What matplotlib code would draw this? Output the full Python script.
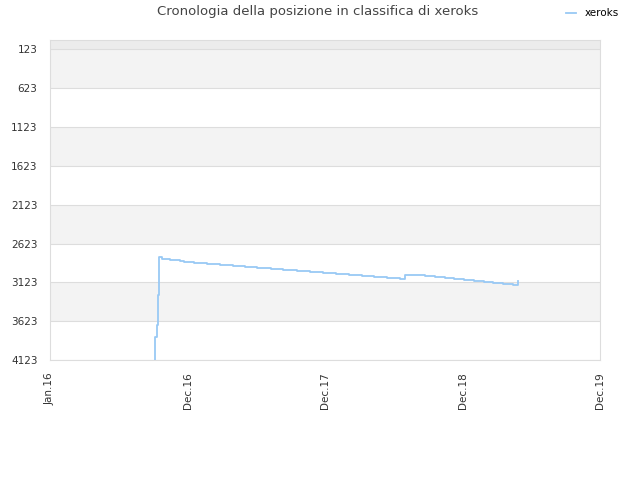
import matplotlib
matplotlib.use('Agg')
import matplotlib.pyplot as plt
import pandas as pd

# rank history for xeroks
dates = ['2016-09-05', '2016-09-06', '2016-09-09', '2016-09-12', '2016-09-15',
         '2016-09-24', '2016-10-14', '2016-11-10', '2016-11-21', '2016-12-18',
         '2017-01-21', '2017-02-24', '2017-03-30', '2017-05-02', '2017-06-04',
         '2017-07-10', '2017-08-11', '2017-09-16', '2017-10-21', '2017-11-25',
         '2017-12-30', '2018-02-02', '2018-03-08', '2018-04-10', '2018-05-15',
         '2018-06-17', '2018-07-02', '2018-08-09', '2018-08-23', '2018-09-18',
         '2018-10-15', '2018-11-08', '2018-12-04', '2018-12-31', '2019-01-27',
         '2019-02-20', '2019-03-19', '2019-04-15', '2019-04-26']
ranks = [4123, 3827, 3673, 3287, 2801,
         2818, 2832, 2849, 2862, 2874,
         2883, 2896, 2909, 2922, 2935,
         2950, 2960, 2973, 2986, 3003,
         3016, 3029, 3042, 3054, 3067,
         3080, 3025, 3029, 3042, 3054,
         3071, 3084, 3097, 3110, 3123,
         3136, 3148, 3161, 3106]

y_ticks = [123, 623, 1123, 1623, 2123, 2623, 3123, 3623, 4123]
x_ticks = ['2015-12-01', '2016-12-01', '2017-12-01', '2018-12-01', '2019-12-01']
x_labels = ['Jan.16', 'Dec.16', 'Dec.17', 'Dec.18', 'Dec.19']

x = pd.to_datetime(dates)

fig = plt.figure(figsize=(6.4, 4.8), dpi=100)
ax = fig.add_axes([50 / 640, 120 / 480, 550 / 640, 320 / 480])

# alternating background bands
ax.axhspan(1, y_ticks[0], color='#ececec', zorder=0, lw=0)
for i in range(len(y_ticks) - 1):
    if i % 2 == 0:
        ax.axhspan(y_ticks[i], y_ticks[i + 1], color='#f3f3f3', zorder=0, lw=0)
for t in y_ticks:
    ax.axhline(t, color='#dddddd', lw=0.8, zorder=1)

ax.plot(x, ranks, drawstyle='steps-post', color='#99c9f5', lw=1.3,
        label='xeroks', zorder=3)

ax.set_ylim(4123, 1)
ax.set_xlim(pd.Timestamp(x_ticks[0]), pd.Timestamp(x_ticks[-1]))
ax.set_yticks(y_ticks)
ax.set_yticklabels([str(t) for t in y_ticks])
ax.set_xticks(pd.to_datetime(x_ticks))
ax.set_xticklabels(x_labels, rotation=90)
ax.tick_params(axis='y', labelsize=7.5, colors='#333333', length=0, pad=9)
ax.tick_params(axis='x', labelsize=7.5, colors='#333333', length=0, pad=9)

for side in ax.spines.values():
    side.set_color('#dddddd')
    side.set_linewidth(0.8)

fig.text(318 / 640, 1 - 12 / 480, 'Cronologia della posizione in classifica di xeroks',
         ha='center', va='center', fontsize=9.5, color='#444444')
ax.legend(loc='upper right', bbox_to_anchor=(573 / 550, 1 + 36 / 320),
          frameon=False, fontsize=7.5, handlelength=1.0, borderaxespad=0)

fig.savefig('out.png', dpi=100)
